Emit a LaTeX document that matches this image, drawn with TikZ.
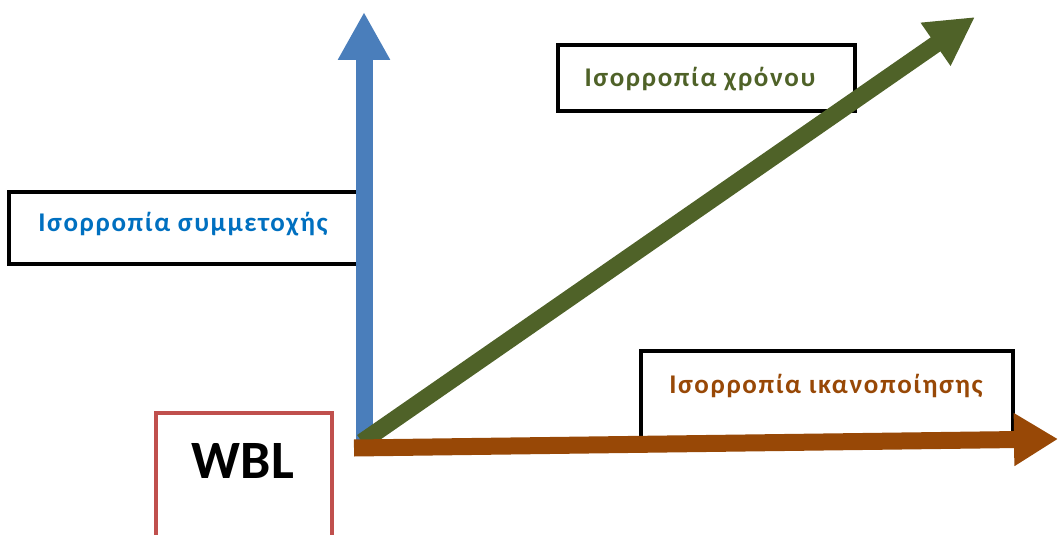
\documentclass[tikz,border=0pt]{standalone}
\usepackage{fontspec}
\setmainfont{Carlito}
\newfontfamily\widefont[LetterSpace=6]{Carlito}
\usetikzlibrary{arrows.meta}
\definecolor{ablue}{RGB}{74,126,187}
\definecolor{agreen}{RGB}{79,98,40}
\definecolor{abrown}{RGB}{152,72,6}
\definecolor{tblue}{RGB}{0,112,192}
\definecolor{wred}{RGB}{192,80,77}
\tikzset{
  lbox/.style={draw=black,line width=4pt,fill=white},
  ltext/.style={font=\widefont\bfseries\fontsize{27}{32}\selectfont,inner sep=0pt},
  bigarrow/.style={line width=17pt,-{Triangle[length=48pt,width=49pt]}},
}
\begin{document}
\begin{tikzpicture}[x=1pt,y=-1pt]
\useasboundingbox (0,0) rectangle (1058,535);
% boxes
\draw[lbox] (9,192) rectangle (360,264);
\node[ltext,text=tblue] (t1) at (183,224) {Ισορροπία συμμετοχής};
\draw[lbox] (558,45) rectangle (855,111);
\node[ltext,text=agreen] (t2) at (700,79) {Ισορροπία χρόνου};
\draw[lbox] (641,351) rectangle (1013,445);
\node[ltext,text=abrown] (t3) at (826,386) {Ισορροπία ικανοποίησης};
\draw[draw=wred,line width=3.5pt,fill=white] (156,413) rectangle (332,560);
\node[font=\bfseries\fontsize{54}{62}\selectfont,inner sep=0pt] (wbl) at (243,461) {WBL};
% arrows
\coordinate (o1) at (364,442);
\coordinate (b) at (364,12);
\coordinate (o2) at (362,442);
\coordinate (g) at (975,17);
\coordinate (o3) at (354,448);
\coordinate (r) at (1058,439);
\draw[bigarrow,ablue] (o1) -- (b);
\draw[bigarrow,agreen] (o2) -- (g);
\draw[bigarrow,abrown,-{Triangle[length=44pt,width=50pt]}] (o3) -- (r);
\end{tikzpicture}
\end{document}
